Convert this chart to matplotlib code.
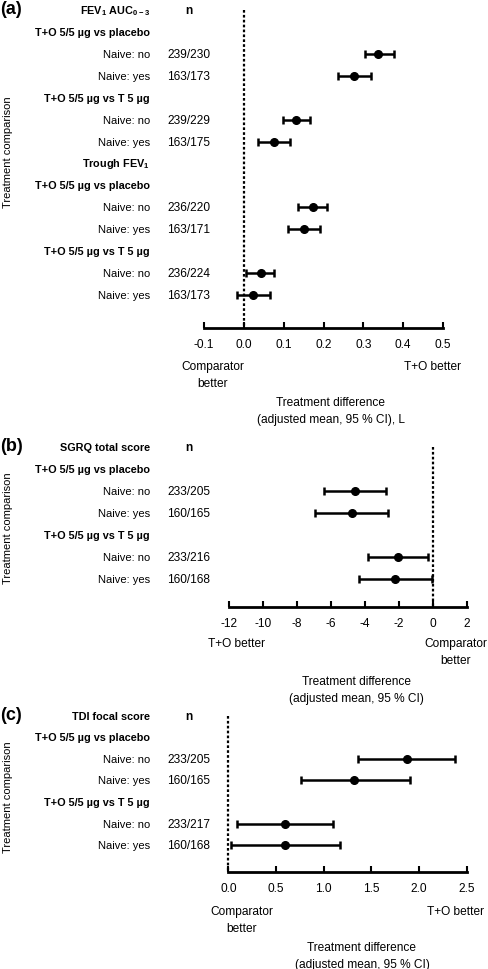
import matplotlib
matplotlib.use("Agg")
import matplotlib.pyplot as plt
from matplotlib.transforms import blended_transform_factory

plt.rcParams['font.family'] = ['Liberation Sans', 'DejaVu Sans']
plt.rcParams['mathtext.default'] = 'regular'
plt.rcParams['axes.unicode_minus'] = False

# data
comparisons = ["T+O 5/5 µg vs placebo", "T+O 5/5 µg vs T 5 µg"]
subgroups = ["Naive: no", "Naive: yes"]

fev_auc_mean = [0.338, 0.276, 0.131, 0.076]
fev_auc_lo = [0.304, 0.237, 0.098, 0.036]
fev_auc_hi = [0.377, 0.318, 0.167, 0.117]
fev_auc_n = ["239/230", "163/173", "239/229", "163/175"]

trough_mean = [0.174, 0.150, 0.042, 0.024]
trough_lo = [0.137, 0.110, 0.006, -0.018]
trough_hi = [0.208, 0.192, 0.076, 0.065]
trough_n = ["236/220", "163/171", "236/224", "163/173"]

sgrq_mean = [-4.58, -4.77, -2.02, -2.22]
sgrq_lo = [-6.39, -6.90, -3.83, -4.32]
sgrq_hi = [-2.75, -2.61, -0.26, -0.06]
sgrq_n = ["233/205", "160/165", "233/216", "160/168"]

tdi_mean = [1.87, 1.32, 0.595, 0.595]
tdi_lo = [1.36, 0.756, 0.088, 0.028]
tdi_hi = [2.38, 1.90, 1.10, 1.165]
tdi_n = ["233/205", "160/165", "233/217", "160/168"]

a_ticks = [-0.1, 0.0, 0.1, 0.2, 0.3, 0.4, 0.5]
b_ticks = [-12, -10, -8, -6, -4, -2, 0, 2]
c_ticks = [0.0, 0.5, 1.0, 1.5, 2.0, 2.5]

W, H = 489, 970
fig = plt.figure(figsize=(W / 100, H / 100), dpi=100)
FS = 8      # row labels
FS_N = 8.6  # n column, ticks
FS_B = 8.6  # notes under the axis
LS = 1.6


def block(title, mean, lo, hi, n):
    # header row, then comparison / subgroup rows
    rows = [(title, True, None)]
    k = 0
    for comp in comparisons:
        rows.append((comp, True, None))
        for sg in subgroups:
            rows.append((sg, False, (mean[k], lo[k], hi[k], n[k])))
            k += 1
    return rows


def make_panel(letter, blocks, ticks, fmt, x_px, top_px, bottom_px, ybottom,
               left_note, right_note, left_x, right_x, note_y, ylab_y):
    rows = []
    for b in blocks:
        rows += block(*b)
    ax = fig.add_axes([x_px[0] / W, 1 - bottom_px / H,
                       (x_px[1] - x_px[0]) / W, (bottom_px - top_px) / H])
    ax.set_xlim(ticks[0], ticks[-1])
    ax.set_ylim(ybottom, -0.5)
    for s in ['top', 'right', 'left']:
        ax.spines[s].set_visible(False)
    ax.spines['bottom'].set_linewidth(2)
    ax.set_yticks([])
    ax.set_xticks(ticks)
    ax.set_xticklabels([fmt.format(t) for t in ticks], fontsize=FS_N)
    ax.tick_params(axis='x', direction='in', length=4, width=1.5, pad=7)
    ax.vlines(0, 0, ybottom, colors='black', linestyles=(0, (1.2, 1.0)), lw=1.6,
              clip_on=False)

    tr = blended_transform_factory(fig.transFigure, ax.transData)
    first = True
    for i, (label, bold, vals) in enumerate(rows):
        ax.text(150 / W, i, label, transform=tr, ha='right', va='center',
                fontsize=7.8 if bold else FS, fontweight='bold' if bold else 'normal')
        if first:
            ax.text(189 / W, i, "n", transform=tr, ha='center', va='center',
                    fontsize=FS_N, fontweight='bold')
            first = False
        if vals is not None:
            m, lo, hi, n = vals
            ax.text(189 / W, i, n, transform=tr, ha='center', va='center', fontsize=FS_N)
            ax.errorbar(m, i, xerr=[[m - lo], [hi - m]], fmt='o', color='black',
                        ms=5.5, elinewidth=1.8, capsize=3, capthick=1.8, clip_on=False)

    fig.text(0 / W, 1 - (top_px + 10) / H, letter, fontsize=13, fontweight='bold',
             ha='left', va='center')
    fig.text(8 / W, 1 - ylab_y / H, "Treatment comparison", rotation=90,
             fontsize=FS, ha='center', va='center')
    fig.text(left_x / W, 1 - note_y / H, left_note, fontsize=FS_B,
             ha='center', va='top', linespacing=LS)
    fig.text(right_x / W, 1 - note_y / H, right_note, fontsize=FS_B,
             ha='center', va='top', linespacing=LS)
    return ax


make_panel("(a)",
           [("FEV$_1$ AUC$_{0-3}$", fev_auc_mean, fev_auc_lo, fev_auc_hi, fev_auc_n),
            ("Trough FEV$_1$", trough_mean, trough_lo, trough_hi, trough_n)],
           a_ticks, "{:.1f}", (204, 443), 0, 329, 14.5,
           "Comparator\nbetter", "T+O better", 213, 433, 361, 152)
fig.text(331 / W, 1 - 397 / H, "Treatment difference\n(adjusted mean, 95 % CI), L",
         fontsize=FS_B, ha='center', va='top', linespacing=LS)

make_panel("(b)",
           [("SGRQ total score", sgrq_mean, sgrq_lo, sgrq_hi, sgrq_n)],
           b_ticks, "{:d}", (228.7, 466.7), 437, 608, 7.27,
           "T+O better", "Comparator\nbetter", 237, 456, 638, 528)
fig.text(356 / W, 1 - 676 / H, "Treatment difference\n(adjusted mean, 95 % CI)",
         fontsize=FS_B, ha='center', va='top', linespacing=LS)

make_panel("(c)",
           [("TDI focal score", tdi_mean, tdi_lo, tdi_hi, tdi_n)],
           c_ticks, "{:.1f}", (228.5, 466.7), 706, 873, 7.25,
           "Comparator\nbetter", "T+O better", 242, 456, 906, 797)
fig.text(362 / W, 1 - 942 / H, "Treatment difference\n(adjusted mean, 95 % CI)",
         fontsize=FS_B, ha='center', va='top', linespacing=LS)

fig.savefig("out.png", dpi=100)
